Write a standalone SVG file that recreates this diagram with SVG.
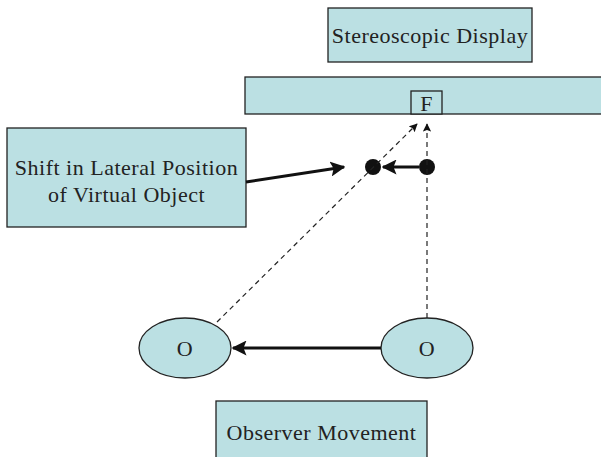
<svg xmlns="http://www.w3.org/2000/svg" width="601" height="457" viewBox="0 0 601 457">
  <style>
    .box { fill: #bbe0e3; stroke: #222; stroke-width: 1.3; }
    .lbl { font-family: "Liberation Serif", "Times New Roman", serif; font-size: 22px; letter-spacing: 0.5px; fill: #222; text-anchor: middle; }
    .dash { stroke: #222; stroke-width: 1.2; stroke-dasharray: 5 4; fill: none; }
    .solid { stroke: #111; stroke-width: 3; fill: none; }
  </style>
  <defs>
    <marker id="head" viewBox="0 0 10 10" refX="9" refY="5" markerWidth="5" markerHeight="5" orient="auto" markerUnits="strokeWidth">
      <path d="M0,0 L10,5 L0,10 L2,5 Z" fill="#111"/>
    </marker>
    <marker id="headSmall" viewBox="0 0 10 10" refX="9" refY="5" markerWidth="7" markerHeight="7" orient="auto" markerUnits="strokeWidth">
      <path d="M0,0 L10,5 L0,10 L2,5 Z" fill="#111"/>
    </marker>
  </defs>

  <g id="display-label">
    <rect class="box" x="328" y="8" width="204" height="54"/>
    <text class="lbl" x="430" y="43">Stereoscopic Display</text>
  </g>

  <g id="display-screen">
    <rect class="box" x="245" y="77" width="360" height="37"/>
  </g>

  <g id="fixation">
    <rect class="box" x="411" y="91" width="31" height="23"/>
    <text class="lbl" x="426.5" y="111">F</text>
  </g>

  <g id="shift-label">
    <rect class="box" x="7" y="128" width="239" height="99"/>
    <text class="lbl" x="126.5" y="175">Shift in Lateral Position</text>
    <text class="lbl" x="126.5" y="202">of Virtual Object</text>
  </g>

  <g id="virtual-object-new">
    <circle cx="373" cy="167" r="8" fill="#111"/>
  </g>
  <g id="virtual-object-old">
    <circle cx="427" cy="167" r="8" fill="#111"/>
  </g>

  <g id="observer-left">
    <ellipse class="box" cx="185" cy="348" rx="46" ry="30"/>
    <text class="lbl" x="185" y="356">O</text>
  </g>
  <g id="observer-right">
    <ellipse class="box" cx="427" cy="348" rx="46" ry="30"/>
    <text class="lbl" x="427" y="356">O</text>
  </g>

  <g id="movement-label">
    <rect class="box" x="216" y="401" width="211" height="62"/>
    <text class="lbl" x="321.5" y="440">Observer Movement</text>
  </g>

  <g id="connectors">
    <!-- lines of sight to the fixation point -->
    <line class="dash" x1="427" y1="318" x2="427" y2="124" marker-end="url(#headSmall)"/>
    <line class="dash" x1="217" y1="322" x2="417" y2="124" marker-end="url(#headSmall)"/>
    <!-- observer moves left -->
    <line class="solid" x1="381" y1="348" x2="233" y2="348" marker-end="url(#head)"/>
    <!-- virtual object shifts left -->
    <line class="solid" x1="419" y1="167" x2="383" y2="167" marker-end="url(#head)"/>
    <!-- label pointer -->
    <line class="solid" x1="246" y1="182" x2="344" y2="167" marker-end="url(#head)"/>
  </g>
</svg>
